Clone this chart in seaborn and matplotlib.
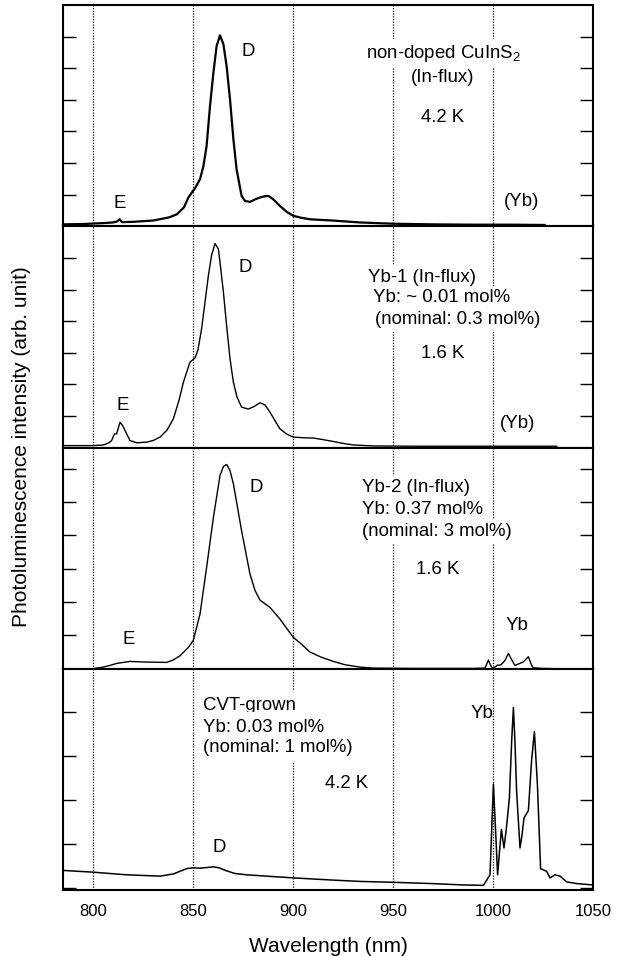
import numpy as np
import pandas as pd
import matplotlib
matplotlib.use("Agg")
import matplotlib.pyplot as plt
import seaborn as sns

# ---------------- data ----------------
wl1 = [785, 795, 805, 810, 812, 813.3, 814.5, 820, 830, 838, 842, 845.5, 847.7, 850, 851, 853.5,
       855.2, 856.8, 858.5, 860.2, 861.8, 863.5, 865.2, 866.8, 868.5, 870.2, 871.8, 874.3, 876,
       878.5, 881, 883.5, 886, 887.7, 890, 893.5, 897, 900.2, 904, 908.5, 920, 933.5, 950, 970,
       990, 1010, 1026]
pl1 = [0.06, 0.07, 0.10, 0.12, 0.15, 0.22, 0.13, 0.14, 0.18, 0.28, 0.38, 0.60, 0.91, 1.12, 1.20, 1.49,
       1.90, 2.54, 3.80, 4.86, 5.70, 6.04, 5.76, 5.07, 4.02, 2.75, 1.80, 0.96, 0.80,
       0.77, 0.85, 0.91, 0.95, 0.96, 0.86, 0.64, 0.45, 0.33, 0.27, 0.22, 0.18, 0.12, 0.08, 0.06,
       0.05, 0.05, 0.04]

wl2 = [785, 800, 805.2, 808, 809.3, 810.7, 811.8, 813.5, 814.8, 816, 817.5, 818.5, 821.8, 826.8,
       830, 833.5, 837, 840.2, 843, 845.2, 848.5, 851, 852.5, 854.3, 856, 857.7, 859.3, 861,
       862.7, 863.5, 865.2, 866.8, 868.5, 870.2, 872, 874.3, 877.7, 880.5, 883.5, 886, 888.5,
       891, 893.5, 897, 900.2, 905, 910.2, 915, 920.2, 925, 930.2, 940, 960, 1000, 1032]
pl2 = [0.06, 0.06, 0.08, 0.15, 0.22, 0.43, 0.43, 0.80, 0.70, 0.54, 0.35, 0.22, 0.15, 0.17,
       0.22, 0.33, 0.55, 0.91, 1.50, 2.07, 2.71, 2.84, 3.10, 3.77, 4.61, 5.46, 6.10, 6.47,
       6.30, 5.88, 4.93, 3.87, 2.82, 2.07, 1.60, 1.28, 1.22, 1.30, 1.42, 1.35, 1.12,
       0.85, 0.59, 0.42, 0.33, 0.31, 0.30, 0.25, 0.19, 0.13, 0.08, 0.05, 0.04, 0.04, 0.04]

wl3 = [785, 800, 805.2, 808.5, 811.8, 818.5, 826.8, 836.8, 840, 843.5, 847.7, 850.2, 853.5, 856.8,
       860.2, 863.5, 865.2, 866.8, 868.5, 870.2, 874.3, 878.5, 881, 883.5, 886, 888.5, 893.5,
       897, 900.2, 904, 908.5, 914, 920.2, 926, 933.5, 940, 960, 990, 996, 997.7, 999, 1000,
       1002, 1004, 1006, 1007.7, 1009.5, 1011, 1013, 1015, 1017.7, 1019, 1020, 1025, 1032]
pl3 = [0.0, 0.0, 0.05, 0.10, 0.16, 0.22, 0.20, 0.19, 0.26, 0.39, 0.64, 0.86, 1.64, 3.04,
       4.54, 5.80, 6.07, 6.13, 5.95, 5.55, 4.14, 2.84, 2.35, 2.06, 1.95, 1.84, 1.49,
       1.20, 0.94, 0.75, 0.50, 0.35, 0.22, 0.12, 0.05, 0.02, 0.01, 0.01, 0.02, 0.26, 0.08, 0.0,
       0.10, 0.12, 0.25, 0.46, 0.25, 0.10, 0.15, 0.20, 0.36, 0.15, 0.03, 0.01, 0.0]

wl4 = [785, 800, 816.8, 833.5, 840.2, 846.8, 850, 853.5, 860.2, 863, 866.8, 871, 876.8, 890,
       900.2, 920, 933.5, 950, 970, 985, 995.2, 998.5, 1000.2, 1001.3, 1002.3, 1003.2, 1004.2,
       1005.5, 1006.8, 1008.2, 1009.3, 1010.2, 1011, 1011.8, 1013.5, 1014.5, 1015.5, 1017.7,
       1019.3, 1020.7, 1022.2, 1023.8, 1026.8, 1028.5, 1031, 1033.5, 1036.8, 1042, 1050]
pl4 = [0.40, 0.36, 0.30, 0.27, 0.32, 0.44, 0.46, 0.45, 0.48, 0.46, 0.39, 0.33, 0.30, 0.26,
       0.23, 0.18, 0.15, 0.13, 0.10, 0.07, 0.06, 0.30, 2.36, 1.30, 0.30, 0.80, 1.33,
       0.91, 1.40, 2.05, 3.30, 4.10, 3.30, 2.20, 0.91, 1.20, 1.59, 1.76,
       2.90, 3.55, 2.35, 0.44, 0.38, 0.23, 0.30, 0.27, 0.14, 0.10, 0.07]

x_ticks = [800, 850, 900, 950, 1000, 1050]
grid_lines = [800, 850, 900, 950, 1000]

# ---------------- style ----------------
sns.set_style("white")
plt.rcParams["font.family"] = ["Liberation Sans", "DejaVu Sans"]
plt.rcParams["mathtext.fontset"] = "custom"
plt.rcParams["mathtext.rm"] = "Liberation Sans"
plt.rcParams["mathtext.it"] = "Liberation Sans"
for k in ["text.color", "axes.labelcolor", "xtick.color", "ytick.color", "axes.edgecolor"]:
    plt.rcParams[k] = "black"

W, H = 624, 956
fig = plt.figure(figsize=(W / 100, H / 100), dpi=100)
left_px, right_px = 63, 593
top_px, bottom_px = 5, 890
ph = (bottom_px - top_px) / 4

panels = [(wl1, pl1), (wl2, pl2), (wl3, pl3), (wl4, pl4)]
ylims = [(0, 7.0), (0, 7.02), (0, 6.64), (-0.045, 4.98)]
yticks = [range(1, 7), range(1, 7), range(1, 7), range(0, 5)]
lws = [1.6, 1.0, 1.0, 1.1]

TFS = 13.4
bbox = dict(facecolor="white", edgecolor="none", pad=2.5)

axes = []
for i, (wl, pl) in enumerate(panels):
    t = top_px + i * ph
    ax = fig.add_axes([left_px / W, 1 - (t + ph) / H, (right_px - left_px) / W, ph / H])
    axes.append(ax)
    df = pd.DataFrame({"wl": wl, "pl": pl})
    for gx in grid_lines:
        ax.axvline(gx, color="black", ls=(0, (1, 1.2)), lw=0.9, zorder=1)
    sns.lineplot(data=df, x="wl", y="pl", ax=ax, color="black", lw=lws[i],
                 estimator=None, sort=False, zorder=3)
    ax.set_xlim(785, 1050)
    ax.set_ylim(*ylims[i])
    ax.set_yticks(list(yticks[i]))
    ax.set_xticks(x_ticks)
    ax.tick_params(axis="y", direction="in", length=9.4, width=1.0, left=True, right=True,
                   labelleft=False, color="black")
    ax.tick_params(axis="x", length=0, labelsize=12, pad=10,
                   labelbottom=(i == 3), labelcolor="black")
    ax.set_xlabel("")
    ax.set_ylabel("")
    for s in ax.spines.values():
        s.set_linewidth(1.5)
        s.set_color("black")

# ---------- annotations ----------
a1, a2, a3, a4 = axes
kw = dict(fontsize=TFS, va="center", zorder=5, color="black")

def y_of(ax, ypx, i):
    # convert figure pixel y (from top) into data y of panel i
    t = top_px + i * ph
    lo, hi = ylims[i]
    return lo + (t + ph - ypx) / ph * (hi - lo)

a1.text(975, y_of(a1, 53, 0), r"non-doped CuInS$_2$", ha="center", bbox=bbox, **kw)
a1.text(975, y_of(a1, 78, 0), "(In-flux)", ha="center", bbox=bbox, **kw)
a1.text(975, y_of(a1, 118, 0), "4.2 K", ha="center", **kw)
a1.text(1014.3, y_of(a1, 202, 0), "(Yb)", ha="center", **kw)
a1.text(877.7, y_of(a1, 52, 0), "D", ha="center", **kw)
a1.text(813.5, y_of(a1, 204, 0), "E", ha="center", **kw)

a2.text(937.5, y_of(a2, 277, 1), "Yb-1 (In-flux)", ha="left", bbox=bbox, **kw)
a2.text(940.0, y_of(a2, 298, 1), "Yb: ~ 0.01 mol%", ha="left", bbox=bbox, **kw)
a2.text(941.0, y_of(a2, 320, 1), "(nominal: 0.3 mol%)", ha="left", bbox=bbox, **kw)
a2.text(975, y_of(a2, 353, 1), "1.6 K", ha="center", **kw)
a2.text(1012.5, y_of(a2, 423, 1), "(Yb)", ha="center", **kw)
a2.text(876, y_of(a2, 268, 1), "D", ha="center", **kw)
a2.text(815, y_of(a2, 405, 1), "E", ha="center", **kw)

a3.text(934.3, y_of(a3, 488, 2), "Yb-2 (In-flux)", ha="left", bbox=bbox, **kw)
a3.text(934.3, y_of(a3, 510, 2), "Yb: 0.37 mol%", ha="left", bbox=bbox, **kw)
a3.text(934.3, y_of(a3, 531, 2), "(nominal: 3 mol%)", ha="left", bbox=bbox, **kw)
a3.text(972.5, y_of(a3, 570, 2), "1.6 K", ha="center", **kw)
a3.text(1011.8, y_of(a3, 625, 2), "Yb", ha="center", **kw)
a3.text(881.8, y_of(a3, 487, 2), "D", ha="center", **kw)
a3.text(817.7, y_of(a3, 639, 2), "E", ha="center", **kw)

bbox4 = dict(facecolor="white", edgecolor="none", pad=5)
a4.text(855.2, y_of(a4, 705, 3), "CVT-grown", ha="left", bbox=bbox4, **kw)
a4.text(855.2, y_of(a4, 727, 3), "Yb: 0.03 mol%", ha="left", bbox=bbox4, **kw)
a4.text(855.2, y_of(a4, 748, 3), "(nominal: 1 mol%)", ha="left", bbox=bbox4, **kw)
a4.text(926.8, y_of(a4, 783, 3), "4.2 K", ha="center", **kw)
a4.text(994.3, y_of(a4, 713, 3), "Yb", ha="center", **kw)
a4.text(863, y_of(a4, 847, 3), "D", ha="center", **kw)

a4.set_xlabel("Wavelength (nm)", fontsize=15, labelpad=13, color="black")
fig.text(22 / W, 1 - 447 / H, "Photoluminescence intensity (arb. unit)", rotation=90,
         va="center", ha="center", fontsize=15, color="black")

fig.savefig("out.png", dpi=100)
